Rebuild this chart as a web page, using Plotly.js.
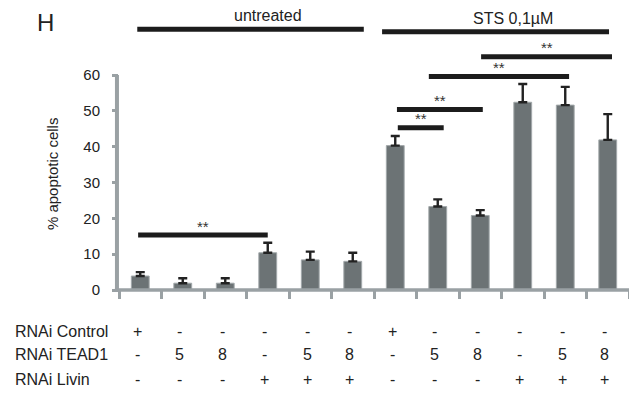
<!DOCTYPE html>
<html>
<head>
<meta charset="utf-8">
<script src="https://cdn.plot.ly/plotly-3.0.1.min.js"></script>
<style>html,body{margin:0;padding:0;background:#fff;}#chart{width:629px;height:393px;}</style>
</head>
<body>
<div id="chart"></div>
<script>
// ---- data ----
var conditions = [0,1,2,3,4,5,6,7,8,9,10,11];
var apoptotic = [3.9, 1.9, 1.9, 10.4, 8.4, 8.0, 40.3, 23.3, 20.8, 52.4, 51.6, 41.9];
var errorUp   = [1.1, 1.4, 1.4, 2.8, 2.3, 2.4, 2.7, 2.0, 1.5, 5.1, 5.1, 7.2];
var rowLabels = ['RNAi Control', 'RNAi TEAD1', 'RNAi Livin'];
var controlRow = ['+','-','-','-','-','-','+','-','-','-','-','-'];
var tead1Row   = ['-','5','8','-','5','8','-','5','8','-','5','8'];
var livinRow   = ['-','-','-','+','+','+','-','-','-','+','+','+'];
var yTicks = [0,10,20,30,40,50,60];
var groupNames = ['untreated', 'STS 0,1\u00b5M'];
var groupX0 = [-0.07, 5.69];
var groupX1 = [5.26, 11.03];
var groupY  = [72.8, 72.1];
var sigX0 = [-0.05, 6.06, 6.04, 6.79, 8.02];
var sigX1 = [3.0, 7.14, 8.06, 10.09, 11.1];
var sigY  = [15.35, 45.3, 50.4, 59.6, 65.1];
var sigLabel = ['**','**','**','**','**'];

// ---- layout helpers ----
var gray = '#9aa1a4';
var ff = 'Liberation Sans, Arial, sans-serif';
var shapes = [];
var annotations = [];

// y axis line (only from 0 to 60) and x axis line
shapes.push({type:'line', xref:'paper', yref:'y', x0:-0.004, x1:-0.004, y0:-0.5, y1:yTicks[yTicks.length-1],
  line:{color:gray, width:4}});
shapes.push({type:'line', xref:'paper', yref:'paper', x0:-0.008, x1:1, y0:0, y1:0,
  line:{color:gray, width:3.5}});

for (var g = 0; g < groupNames.length; g++) {
  shapes.push({type:'line', xref:'x', yref:'y', x0:groupX0[g], x1:groupX1[g], y0:groupY[g], y1:groupY[g],
    line:{color:'#1c1c1c', width:5}});
  annotations.push({xref:'x', yref:'y', x:(groupX0[g]+groupX1[g])/2 + 0.4, y:groupY[g] + 3.8,
    text:groupNames[g], showarrow:false, font:{family:ff, size:16, color:'#222'}});
}
for (var s = 0; s < sigY.length; s++) {
  shapes.push({type:'line', xref:'x', yref:'y', x0:sigX0[s], x1:sigX1[s], y0:sigY[s], y1:sigY[s],
    line:{color:'#1c1c1c', width:5}});
  annotations.push({xref:'x', yref:'y', x:(sigX0[s]+sigX1[s])/2, y:sigY[s] + 2.5,
    text:sigLabel[s], showarrow:false, font:{family:ff, size:15, color:'#333'}});
}

var rows = [controlRow, tead1Row, livinRow];
var rowPaperY = [-0.1438, -0.2241, -0.3103];
var tf = {family:ff, size:16, color:'#222'};
for (var r = 0; r < rows.length; r++) {
  annotations.push({xref:'paper', yref:'paper', x:-0.2084, y:rowPaperY[r], xanchor:'left', yanchor:'middle',
    text:rowLabels[r], showarrow:false, font:tf});
  for (var i = 0; i < conditions.length; i++) {
    annotations.push({xref:'x', yref:'paper', x:conditions[i], y:rowPaperY[r], xshift:-3,
      xanchor:'center', yanchor:'middle', text:rows[r][i], showarrow:false, font:tf});
  }
}

// panel letter
annotations.push({xref:'paper', yref:'y', x:-0.145, y:74.8, xanchor:'center', yanchor:'middle',
  text:'H', showarrow:false, font:{family:ff, size:24, color:'#222'}});
// y axis title
annotations.push({xref:'paper', yref:'y', x:-0.129, y:32.4, xanchor:'center', yanchor:'middle',
  text:'% apoptotic cells', textangle:-90, showarrow:false, font:{family:ff, size:15, color:'#222'}});

var boundaries = conditions.map(function(c){return c - 0.5;}).concat([conditions.length - 0.5]);

var trace = {
  type:'bar', x:conditions, y:apoptotic, width:0.42,
  marker:{color:'#6c7375', line:{color:'#a3a9ab', width:1}},
  error_y:{type:'data', symmetric:false, array:errorUp, arrayminus:conditions.map(function(){return 0;}),
    color:'#222', thickness:2.4, width:4.5},
  hoverinfo:'none'
};

var layout = {
  width:629, height:393,
  margin:{l:119, r:0, t:0, b:103, pad:0},
  paper_bgcolor:'#fff', plot_bgcolor:'#fff',
  showlegend:false,
  xaxis:{range:[-0.5, 11.5], showgrid:false, zeroline:false, showline:false,
    tickmode:'array', tickvals:boundaries, ticks:'outside', ticklen:8, tickwidth:3, tickcolor:gray,
    showticklabels:false, fixedrange:true},
  yaxis:{range:[0, 80.94], showgrid:false, zeroline:false, showline:false,
    tickmode:'array', tickvals:yTicks, ticks:'outside', ticklen:6, tickwidth:3, tickcolor:gray,
    ticklabelstandoff:9,
    tickfont:{family:ff, size:15, color:'#222'}, fixedrange:true},
  shapes:shapes,
  annotations:annotations
};

Plotly.newPlot('chart', [trace], layout, {displayModeBar:false, staticPlot:true});
</script>
</body>
</html>
